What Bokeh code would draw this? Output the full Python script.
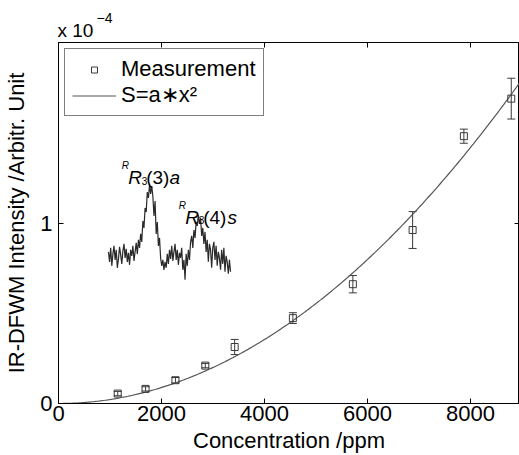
import numpy as np
from bokeh.plotting import figure
from bokeh.models import (ColumnDataSource, Whisker, TeeHead, Label, Legend, LegendItem,
                          LinearAxis, FixedTicker, Range1d, Title)
from bokeh.embed import file_html
from bokeh.resources import INLINE

# ---------------- data ----------------
conc_ppm = [1150, 1690, 2270, 2850, 3420, 4550, 5715, 6875, 7870, 8790]
signal_e4 = [0.055, 0.081, 0.129, 0.210, 0.313, 0.473, 0.661, 0.961, 1.481, 1.689]
err_e4 = [0.012, 0.012, 0.015, 0.012, 0.042, 0.030, 0.048, 0.102, 0.039, 0.113]
x_ticks = [0, 2000, 4000, 6000, 8000]
y_ticks = [0, 1]
x_tick_labels = ["0", "2000", "4000", "6000", "8000"]
y_tick_labels = ["0", "1"]

# inset spectrum (relative intensity, arbitrary units)
spectrum = [4, -6, 8, -10, 2, 10, -4, 6, -12, -3, 9, 1, -8, 5, 12, -2, 7, -6, 3, -9, 6, 0, 10, -5, 4, 13, 2, 16,
            8, 22, 14, 35, 28, 48, 44, 64, 58,
            71, 62, 70, 60,
            40, 55, 22, 34, 10, 18, -2,
            -10, -4, -14, -6, -12, 2, -8, 6, -3, 10, -5, 4, 12, -4, 6, -9, 3, -2, 8, -14, -4, -24, 2, -10,
            6, -4, 14, 20, 8, 26, 18, 34, 30, 41,
            32, 38, 20, 28, 12, 24, 4, 16, -6, 12, 6, -12, 8, 14, -4, 10, -10, 4, -2, -14, 6, -8, 8, -16, 0, -6, -18, -4, -16]

# ---------------- layout constants ----------------
X_END = 8950
Y_END = 2.0
FONT = "Liberation Sans"
INK = "#3a3a3a"
INSET_X0, INSET_X1 = 970, 3340
INSET_BASE = 0.818
INSET_SCALE = 1.0 / 181.0

# least-squares fit of S = a*x^2
xa = np.array(conc_ppm, dtype=float)
ya = np.array(signal_e4, dtype=float)
fit_a = float(np.sum(xa**2 * ya) / np.sum(xa**4))
fit_x = np.linspace(0, X_END, 300)
fit_y = fit_a * fit_x**2

p = figure(width=519, height=455, x_range=Range1d(0, X_END), y_range=Range1d(0, Y_END),
           output_backend="svg", toolbar_location=None,
           min_border_left=58, min_border_right=0, min_border_top=42, min_border_bottom=51)
p.grid.visible = False
p.outline_line_color = "black"
p.outline_line_width = 1
p.background_fill_color = "white"
p.border_fill_color = "white"

# axes
xa_ax = p.xaxis[0]
xa_ax.ticker = FixedTicker(ticks=x_ticks)
xa_ax.major_label_overrides = {t: l for t, l in zip(x_ticks, x_tick_labels)}
xa_ax.axis_label = "Concentration /ppm"
ya_ax = p.yaxis[0]
ya_ax.ticker = FixedTicker(ticks=y_ticks)
ya_ax.major_label_overrides = {t: l for t, l in zip(y_ticks, y_tick_labels)}
ya_ax.axis_label = "IR-DFWM Intensity /Arbitr. Unit"
for ax in (xa_ax, ya_ax):
    ax.major_tick_in = 5
    ax.major_tick_out = 0
    ax.minor_tick_line_color = None
    ax.axis_line_color = "black"
    ax.major_tick_line_color = "black"
    ax.major_label_text_font = FONT
    ax.major_label_text_font_size = "22px"
    ax.major_label_text_color = "black"
    ax.axis_label_text_font = FONT
    ax.axis_label_text_font_size = "22px"
    ax.axis_label_text_font_style = "normal"
    ax.axis_label_text_color = "black"
xa_ax.major_label_standoff = 2
xa_ax.axis_label_standoff = 4
ya_ax.major_label_standoff = 6
ya_ax.axis_label_standoff = 8

# mirrored tick-only axes on top and right (no labels)
top_ax = LinearAxis(ticker=FixedTicker(ticks=x_ticks), major_label_text_font_size="0px",
                    major_label_overrides={t: "" for t in x_ticks},
                    major_label_standoff=0, major_tick_in=5, major_tick_out=0,
                    minor_tick_line_color=None, axis_line_color="black")
right_ax = LinearAxis(ticker=FixedTicker(ticks=y_ticks), major_label_text_font_size="0px",
                      major_label_overrides={t: "" for t in y_ticks},
                      major_label_standoff=0, major_tick_in=5, major_tick_out=0,
                      minor_tick_line_color=None, axis_line_color="black")
p.add_layout(top_ax, "above")
p.add_layout(right_ax, "right")

# exponent "x 10^-4" as two stacked titles above the frame
p.add_layout(Title(text="x 10", align="left", offset=-1, standoff=4,
                   text_font=FONT, text_font_size="19px", text_font_style="normal",
                   text_color="black"), "above")
p.add_layout(Title(text="\u22124", align="left", offset=38, standoff=-14,
                   text_font=FONT, text_font_size="14px", text_font_style="normal",
                   text_color="black"), "above")

# fit curve
ln = p.line(fit_x, fit_y, line_color="#555555", line_width=1.2)

# measurements with error bars
src = ColumnDataSource(dict(x=conc_ppm, y=signal_e4,
                            upper=[v + e for v, e in zip(signal_e4, err_e4)],
                            lower=[v - e for v, e in zip(signal_e4, err_e4)]))
wh = Whisker(source=src, base="x", upper="upper", lower="lower", line_color=INK, line_width=1,
             upper_head=TeeHead(size=8, line_color=INK, line_width=1),
             lower_head=TeeHead(size=8, line_color=INK, line_width=1))
p.add_layout(wh)
sc = p.scatter("x", "y", source=src, marker="square", size=7, fill_color=None,
               line_color=INK, line_width=1)

# inset spectrum
sx = np.linspace(INSET_X0, INSET_X1, len(spectrum))
sy = INSET_BASE + np.array(spectrum, dtype=float) * INSET_SCALE
p.line(sx, sy, line_color="#2a2a2a", line_width=1.2)

# spectral line annotations
def add_text(x, y, text, dx, dy, size, style):
    p.add_layout(Label(x=x, y=y, text=text, x_offset=dx, y_offset=dy,
                       text_font=FONT, text_font_size=size, text_font_style=style,
                       text_color="black", text_baseline="alphabetic", text_align="left"))

ANN = [(1353, 1.252, "(3)", "a", 41.3), (2460, 1.031, "(4)", "s", 42.3)]
for ax_, ay_, mid, tail, tail_dx in ANN:
    add_text(ax_, ay_, "R", -6.5, 12, "10px", "italic")
    add_text(ax_, ay_, "R", 0, 0, "19px", "italic")
    add_text(ax_, ay_, "3", 13.5, -3, "10px", "normal")
    add_text(ax_, ay_, mid, 18, 0, "19px", "normal")
    add_text(ax_, ay_, tail, tail_dx, 0, "19px", "italic")

# legend
legend = Legend(items=[LegendItem(label="Measurement", renderers=[sc]),
                       LegendItem(label="S=a\u2217x\u00b2", renderers=[ln])],
                location="top_left", margin=6, padding=7, spacing=0,
                glyph_width=44, glyph_height=15, label_height=25, label_standoff=5,
                label_text_font=FONT, label_text_font_size="22px", label_text_color="black",
                border_line_color="black", border_line_width=1,
                background_fill_color="white", background_fill_alpha=1.0)
p.add_layout(legend)

open("out.html", "w").write(file_html(p, INLINE))
